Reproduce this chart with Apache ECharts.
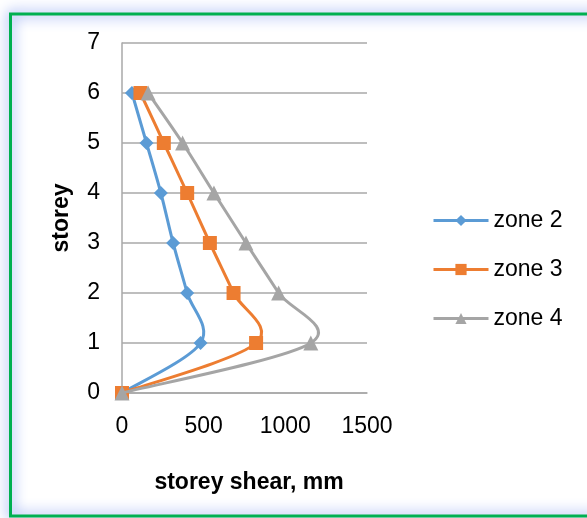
<!DOCTYPE html>
<html>
<head>
<meta charset="utf-8">
<script src="https://cdn.jsdelivr.net/npm/echarts@6/dist/echarts.min.js"></script>
<style>
html,body{margin:0;padding:0;background:#fff;}
#c{width:587px;height:518px;}
</style>
</head>
<body>
<div id="c"></div>
<script>
var storeys = [0, 1, 2, 3, 4, 5, 6];
var zone2 = [0, 481, 399, 313, 238, 150, 61];
var zone3 = [0, 821, 683, 538, 399, 256, 113];
var zone4 = [0, 1156, 959, 759, 563, 371, 160];
var xTicks = [0, 500, 1000, 1500];
var yTicks = [0, 1, 2, 3, 4, 5, 6, 7];
var seriesNames = ['zone 2', 'zone 3', 'zone 4'];

var colors = ['#5b9bd5', '#ed7d31', '#a5a5a5'];
var symbols = ['diamond', 'rect', 'triangle'];
var symbolSizes = [14, 14, 15];
var allValues = [zone2, zone3, zone4];

function pairs(vals) {
  return vals.map(function (v, i) { return [v, storeys[i]]; });
}

// Smooth (Catmull-Rom style) path built from pixel coords given by the axes
function makeRender(vals, color) {
  return function (params, api) {
    var pts = vals.map(function (v, i) { return api.coord([v, storeys[i]]); });
    var n = pts.length;
    var d = 'M' + pts[0][0] + ' ' + pts[0][1];
    for (var i = 0; i < n - 1; i++) {
      var p0 = pts[Math.max(i - 1, 0)], p1 = pts[i], p2 = pts[i + 1], p3 = pts[Math.min(i + 2, n - 1)];
      var c1x = p1[0] + (p2[0] - p0[0]) / 6, c1y = p1[1] + (p2[1] - p0[1]) / 6;
      var c2x = p2[0] - (p3[0] - p1[0]) / 6, c2y = p2[1] - (p3[1] - p1[1]) / 6;
      d += ' C' + c1x + ' ' + c1y + ' ' + c2x + ' ' + c2y + ' ' + p2[0] + ' ' + p2[1];
    }
    return {
      type: 'path',
      shape: {pathData: d},
      style: {fill: 'none', stroke: color, lineWidth: 3, lineJoin: 'round', lineCap: 'round'}
    };
  };
}

var FONT = 'Liberation Sans';
var chart = echarts.init(document.getElementById('c'), null, {renderer: 'canvas'});
var axisColor = '#a8a8a8';

var series = [];
allValues.forEach(function (vals, k) {
  series.push({
    type: 'custom',
    coordinateSystem: 'cartesian2d',
    data: [[vals[0], storeys[0]]],
    renderItem: makeRender(vals, colors[k]),
    silent: true,
    clip: false,
    z: 1 + k * 2
  });
});
allValues.forEach(function (vals, k) {
  series.push({
    name: seriesNames[k], type: 'line', data: pairs(vals),
    symbol: symbols[k], symbolSize: symbolSizes[k],
    itemStyle: {color: colors[k]},
    lineStyle: {color: colors[k], width: 3, opacity: 0},
    z: 2 + k * 2
  });
});

chart.setOption({
  animation: false,
  backgroundColor: '#ffffff',
  textStyle: {fontFamily: FONT},
  graphic: [{
    type: 'rect',
    shape: {x: 10.5, y: 14, width: 620, height: 502},
    style: {
      fill: 'none',
      stroke: '#00b050',
      lineWidth: 3,
      shadowBlur: 14,
      shadowColor: 'rgba(60,100,230,1)'
    },
    z: 100
  }],
  title: {
    text: 'storey shear, mm',
    left: 244,
    top: 466,
    textAlign: 'center',
    textStyle: {fontFamily: FONT, fontSize: 23, fontWeight: 'bold', color: '#000'}
  },
  grid: {left: 122, right: 220, top: 43, bottom: 125, containLabel: false},
  legend: {
    orient: 'vertical',
    left: 427,
    top: 204,
    itemWidth: 55,
    itemHeight: 14,
    itemGap: 26,
    data: seriesNames.map(function (n, k) {
      return {name: n, itemStyle: {color: colors[k]}, lineStyle: {color: colors[k], width: 3, opacity: 1}};
    }),
    textStyle: {fontFamily: FONT, fontSize: 23, color: '#000', padding: [0, 0, 0, 0]}
  },
  xAxis: {
    type: 'value',
    min: xTicks[0],
    max: xTicks[xTicks.length - 1],
    interval: 500,
    axisLine: {show: true, lineStyle: {color: axisColor, width: 1.5}},
    axisTick: {show: false},
    splitLine: {show: false},
    axisLabel: {fontFamily: FONT, fontSize: 23, color: '#000', margin: 22,
      formatter: function (v) { return String(v); }}
  },
  yAxis: {
    type: 'value',
    min: yTicks[0],
    max: yTicks[yTicks.length - 1],
    interval: 1,
    name: 'storey',
    nameLocation: 'middle',
    nameRotate: 90,
    nameGap: 49,
    nameTextStyle: {fontFamily: FONT, fontSize: 23, fontWeight: 'bold', color: '#000'},
    axisLine: {show: true, lineStyle: {color: axisColor, width: 1.5}},
    axisTick: {show: false},
    splitLine: {show: true, lineStyle: {color: axisColor, width: 1.5}},
    axisLabel: {fontFamily: FONT, fontSize: 23, color: '#000', margin: 22}
  },
  series: series
});
</script>
</body>
</html>
